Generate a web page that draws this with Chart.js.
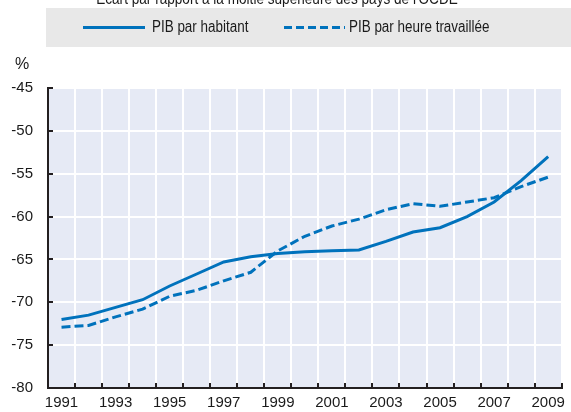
<!DOCTYPE html>
<html>
<head>
<meta charset="utf-8">
<script src="https://cdn.jsdelivr.net/npm/chart.js@4"></script>
<style>
  html, body { margin: 0; padding: 0; background: #fff; }
  #wrap { width: 571px; height: 412px; position: relative; }
</style>
</head>
<body>
<div id="wrap"><canvas id="chart"></canvas></div>
<script>
// données
const years = ['1991', '1992', '1993', '1994', '1995', '1996', '1997', '1998', '1999', '2000',
  '2001', '2002', '2003', '2004', '2005', '2006', '2007', '2008', '2009'];
const pibHabitant = [-72.0, -71.5, -70.6, -69.7, -68.1, -66.7, -65.3, -64.7, -64.3, -64.1,
  -64.0, -63.9, -62.9, -61.8, -61.3, -60.0, -58.3, -55.8, -53.0];
const pibHeure = [-72.9, -72.7, -71.7, -70.8, -69.3, -68.6, -67.5, -66.5, -64.0, -62.3,
  -61.1, -60.3, -59.2, -58.5, -58.8, -58.3, -57.8, -56.5, -55.4];
const seriesNames = ['PIB par habitant', 'PIB par heure travaillée'];
const chartTitle = "Écart par rapport à la moitié supérieure des pays de l'OCDE";
const unitLabel = '%';

const FONT = "'Liberation Sans', Arial, sans-serif";
const BLUE = '#0072BC';
const INK = '#1a1a1a';

// texte un peu condensé, comme l'original
function narrowText(ctx, text, x, y, sx) {
  ctx.save();
  ctx.translate(x, y);
  ctx.scale(sx, 1);
  ctx.fillText(text, 0, 0);
  ctx.restore();
}

const decor = {
  id: 'decor',
  beforeDraw(chart) {
    const { ctx, chartArea: a } = chart;
    ctx.save();
    ctx.fillStyle = '#E6EAF5';
    ctx.fillRect(a.left, a.top, a.right - a.left, a.bottom - a.top);
    ctx.restore();
  },
  afterDraw(chart) {
    const { ctx, chartArea: a } = chart;
    const xs = chart.scales.x;
    const ys = chart.scales.y;
    ctx.save();

    // petites graduations vers l'intérieur
    ctx.strokeStyle = '#231f20';
    ctx.lineWidth = 2;
    ys.ticks.forEach((t) => {
      const py = Math.round(ys.getPixelForValue(t.value));
      ctx.beginPath();
      ctx.moveTo(a.left, py);
      ctx.lineTo(a.left + 5, py);
      ctx.stroke();
    });
    const step = xs.getPixelForValue(1) - xs.getPixelForValue(0);
    for (let i = 0; i <= years.length; i++) {
      const px = Math.round(xs.getPixelForValue(0) - step / 2 + i * step);
      ctx.beginPath();
      ctx.moveTo(px, a.bottom);
      ctx.lineTo(px, a.bottom - 5);
      ctx.stroke();
    }

    // titre (coupé en haut)
    ctx.fillStyle = INK;
    ctx.font = '16px ' + FONT;
    ctx.textAlign = 'center';
    ctx.textBaseline = 'alphabetic';
    narrowText(ctx, chartTitle, 277, 4, 0.85);

    // unité
    ctx.fillText(unitLabel, 22, 69);

    // légende
    ctx.fillStyle = '#E8E8E8';
    ctx.fillRect(46, 8, 525, 39);
    const items = [
      { x0: 83, x1: 145, tx: 152 },
      { x0: 284, x1: 345, tx: 349 },
    ];
    chart.data.datasets.forEach((ds, i) => {
      const it = items[i];
      ctx.strokeStyle = ds.borderColor;
      ctx.lineWidth = 3;
      ctx.setLineDash(ds.borderDash ? [8, 4] : []);
      ctx.beginPath();
      ctx.moveTo(it.x0, 27.5);
      ctx.lineTo(it.x1, 27.5);
      ctx.stroke();
      ctx.setLineDash([]);
      ctx.fillStyle = INK;
      ctx.textAlign = 'left';
      ctx.textBaseline = 'middle';
      narrowText(ctx, ds.label, it.tx, 28, 0.84);
    });
    ctx.restore();
  }
};

new Chart(document.getElementById('chart'), {
  type: 'line',
  data: {
    labels: years,
    datasets: [
      {
        label: seriesNames[0],
        data: pibHabitant,
        borderColor: BLUE,
        borderWidth: 3,
        pointRadius: 0,
        tension: 0,
      },
      {
        label: seriesNames[1],
        data: pibHeure,
        borderColor: BLUE,
        borderWidth: 3,
        borderDash: [9, 4],
        pointRadius: 0,
        tension: 0,
      },
    ],
  },
  options: {
    responsive: true,
    maintainAspectRatio: false,
    animation: false,
    layout: { padding: { top: 88, right: 5, left: 0, bottom: 0 } },
    plugins: {
      legend: { display: false },
      title: { display: false },
      tooltip: { enabled: false },
    },
    scales: {
      x: {
        type: 'category',
        offset: true,
        grid: { offset: true, color: '#ffffff', lineWidth: 2, drawTicks: false },
        border: { display: true, color: '#231f20', width: 2 },
        ticks: {
          autoSkip: false,
          maxRotation: 0,
          padding: 6,
          color: INK,
          font: { family: FONT, size: 15 },
          callback: (val, i) => (i % 2 === 0 ? years[i] : ''),
        },
        afterFit: (s) => { s.height = 23; },
      },
      y: {
        min: -80,
        max: -45,
        grid: { color: '#ffffff', lineWidth: 2, drawTicks: false },
        border: { display: true, color: '#231f20', width: 2 },
        ticks: {
          stepSize: 5,
          padding: 15,
          color: INK,
          font: { family: FONT, size: 15 },
        },
        afterFit: (s) => { s.width = 48; },
      },
    },
  },
  plugins: [decor],
});
</script>
</body>
</html>
